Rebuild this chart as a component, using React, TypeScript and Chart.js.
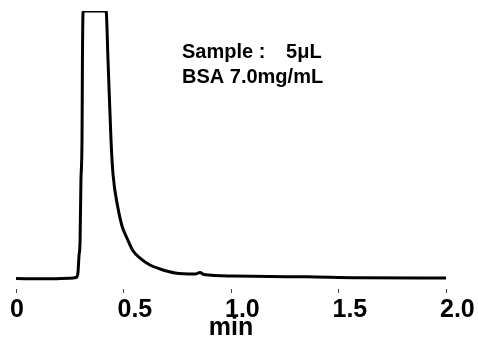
import React, { useEffect, useRef } from "react";
import { Chart, registerables } from "chart.js";

Chart.register(...registerables);

// Retention time (min)
const timeMin = [
  0, 0.135, 0.251, 0.279, 0.288, 0.293, 0.298, 0.302, 0.307, 0.309, 0.312,
  0.419, 0.428, 0.442, 0.451, 0.474, 0.493, 0.516, 0.544, 0.577, 0.623, 0.67,
  0.74, 0.833, 0.856, 0.874, 1.009, 1.181, 1.353, 1.591, 2.0,
];
// Detector signal (arbitrary units; peak clipped at 100)
const signal = [
  -0.2, -0.3, -0.1, 0.2, 1.9, 8.3, 13.9, 36.5, 51.5, 81.6, 100,
  100, 81.6, 51.5, 39.1, 26.3, 19.5, 15.0, 10.2, 7.5, 4.9, 3.4,
  1.9, 1.5, 2.1, 1.3, 0.75, 0.56, 0.45, 0.08, 0,
];
const xTicks = [0, 0.5, 1.0, 1.5, 2.0];
const xTitle = "min";
const noteLines = ["Sample :   \u20095μL", "BSA 7.0mg/mL"];

const FONT = '"Liberation Sans", Arial, sans-serif';

const notesPlugin = {
  id: "notes",
  afterDraw(chart: any) {
    const ctx = chart.ctx;
    ctx.save();
    ctx.fillStyle = "#000";
    ctx.font = `bold 20px ${FONT}`;
    ctx.textAlign = "left";
    ctx.textBaseline = "alphabetic";
    noteLines.forEach((t, i) => {
      ctx.fillText(t, 182, 58 + i * 25);
    });
    ctx.restore();
  },
};

export default function App() {
  const ref = useRef<HTMLCanvasElement | null>(null);
  useEffect(() => {
    if (!ref.current) return;
    const chart = new Chart(ref.current, {
      type: "line",
      data: {
        datasets: [
          {
            data: timeMin.map((x, i) => ({ x, y: signal[i] })),
            borderColor: "#000",
            borderWidth: 3,
            pointRadius: 0,
            cubicInterpolationMode: "monotone",
            fill: false,
          },
        ],
      },
      options: {
        responsive: false,
        animation: false,
        layout: { padding: { left: 16, right: 32, top: 11, bottom: 0 } },
        plugins: { legend: { display: false }, tooltip: { enabled: false } },
        scales: {
          x: {
            type: "linear",
            min: 0,
            max: 2,
            afterBuildTicks: (axis: any) => {
              axis.ticks = xTicks.map((v) => ({ value: v }));
            },
            afterFit: (axis: any) => {
              axis.paddingLeft = 0;
              axis.paddingRight = 0;
            },
            ticks: {
              align: "start",
              labelOffset: -6,
              padding: 2,
              color: "#000",
              font: { family: FONT, size: 25, weight: "bold" },
              callback: (v: any) => (Number(v) === 0 ? "0" : Number(v).toFixed(1)),
              maxRotation: 0,
            },
            grid: {
              display: true,
              drawOnChartArea: false,
              drawTicks: true,
              tickLength: 4,
              color: "#444",
              lineWidth: 1,
            },
            border: { display: false },
            title: {
              display: true,
              text: xTitle,
              color: "#000",
              font: { family: FONT, size: 25, weight: "bold" },
              padding: { top: -14, bottom: -5 },
            },
          },
          y: {
            type: "linear",
            display: false,
            min: -4.1,
            max: 100,
          },
        },
      },
      plugins: [notesPlugin],
    } as any);
    return () => chart.destroy();
  }, []);
  return (
    <div style={{ position: "absolute", left: 0, top: 0, width: 478, height: 338, background: "#fff" }}>
      <canvas ref={ref} width={478} height={338} />
    </div>
  );
}
